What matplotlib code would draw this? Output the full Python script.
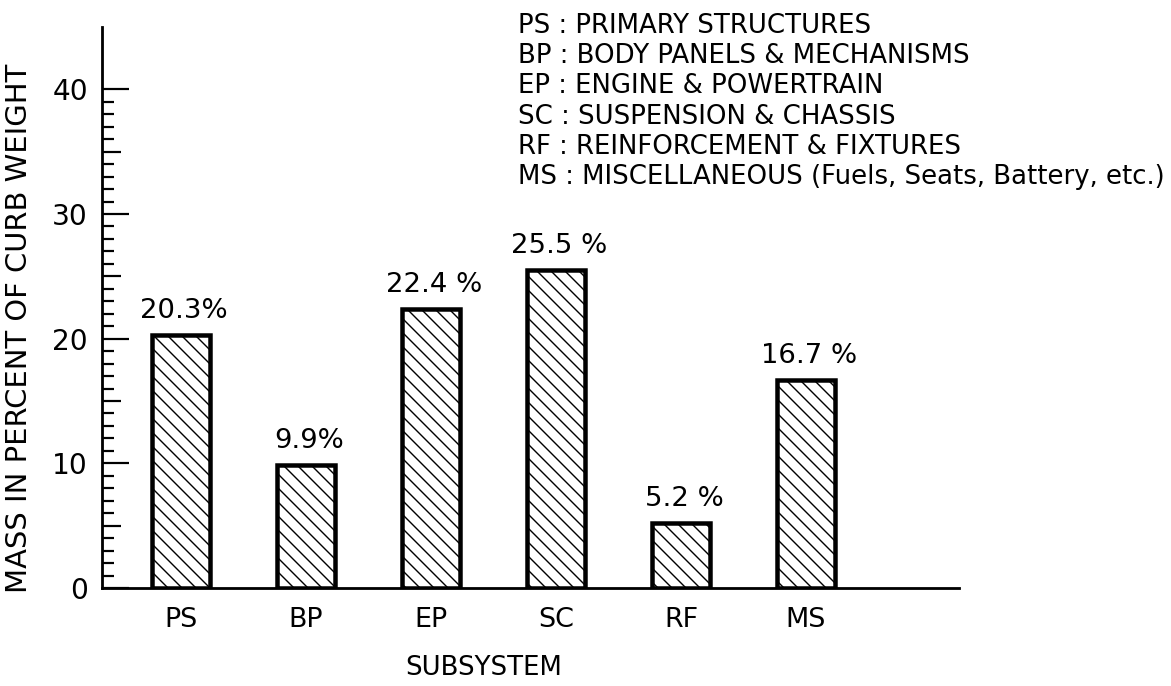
import numpy as np
import matplotlib
matplotlib.use("Agg")
import matplotlib.pyplot as plt

# ---------------- data ----------------
categories = ["PS", "BP", "EP", "SC", "RF", "MS"]
values = [20.3, 9.9, 22.4, 25.5, 5.2, 16.7]
value_labels = ["20.3%", "9.9%", "22.4 %", "25.5 %", "5.2 %", "16.7 %"]
legend_lines = [
    "PS : PRIMARY STRUCTURES",
    "BP : BODY PANELS & MECHANISMS",
    "EP : ENGINE & POWERTRAIN",
    "SC : SUSPENSION & CHASSIS",
    "RF : REINFORCEMENT & FIXTURES",
    "MS : MISCELLANEOUS (Fuels, Seats, Battery, etc.)",
]
y_major = [0, 10, 20, 30, 40]
y_label = "MASS IN PERCENT OF CURB WEIGHT"
x_label = "SUBSYSTEM"

# ---------------- layout helpers ----------------
W, H = 1171, 686
DPI = 84


def P(px):
    """pixels -> points"""
    return px * 72.0 / DPI


plt.rcParams["font.family"] = ["DejaVu Sans"]
plt.rcParams["hatch.linewidth"] = P(1.4)
plt.rcParams["hatch.color"] = "black"

fig = plt.figure(figsize=(W / DPI, H / DPI), dpi=DPI)
ax_l, ax_r, ax_t, ax_b = 102, 959, 27, 588
ax = fig.add_axes([ax_l / W, 1 - ax_b / H, (ax_r - ax_l) / W, (ax_b - ax_t) / H])

x = np.arange(len(categories))
bars = ax.bar(x, values, width=0.46, color="white", edgecolor="black",
              linewidth=P(4.5), hatch="\\\\", zorder=3)

for xi, v, lab in zip(x, values, value_labels):
    ax.annotate(lab, (xi, v), xytext=(P(3), P(11)), textcoords="offset points",
                ha="center", va="bottom", fontsize=P(27.5))

ax.set_xlim(-0.632, 6.224)
ax.set_ylim(0, 45)

for s in ["top", "right"]:
    ax.spines[s].set_visible(False)
ax.spines["left"].set_linewidth(P(2.8))
ax.spines["bottom"].set_linewidth(P(2.8))

ax.set_xticks(x)
ax.set_xticklabels(categories, fontsize=P(27))
ax.tick_params(axis="x", length=0, pad=P(19))

ax.set_yticks(y_major)
ax.set_yticklabels([str(v) for v in y_major], fontsize=P(28))
minor = [v for v in range(1, 40) if v % 5 != 0]
ax.set_yticks(minor, minor=True)
ax.tick_params(axis="y", which="major", direction="in", length=P(27),
               width=P(2.2), pad=P(14))
ax.tick_params(axis="y", which="minor", direction="in", length=P(12),
               width=P(2.2))

sec = ax.secondary_yaxis("left")
sec.set_yticks([5, 15, 25, 35])
sec.set_yticklabels([])
sec.tick_params(direction="in", length=P(19), width=P(2.2))
sec.spines["left"].set_visible(False)

ax.set_ylabel(y_label, fontsize=P(29))
ax.yaxis.set_label_coords((33 - ax_l) / (ax_r - ax_l), (ax_b - 328) / (ax_b - ax_t))

fig.text(405 / W, 1 - 668 / H, x_label, ha="left", va="center", fontsize=P(26))

for i, line in enumerate(legend_lines):
    fig.text(518 / W, 1 - (33 + 30.2 * i) / H, line, ha="left", va="baseline",
             fontsize=P(26))

fig.savefig("out.png", dpi=DPI)
